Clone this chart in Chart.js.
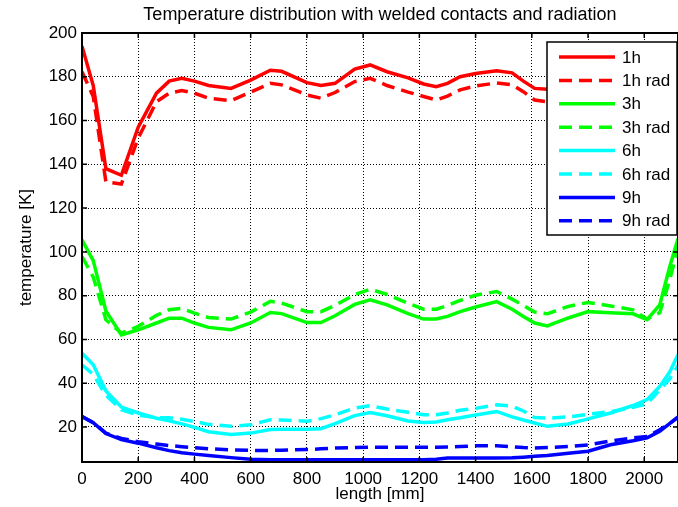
<!DOCTYPE html>
<html lang="en">
<head>
  <meta charset="UTF-8">
  <title>Temperature distribution</title>
  <script src="https://cdn.jsdelivr.net/npm/chart.js"></script>
  <style>
    body { margin: 0; background: #fff; }
  </style>
</head>
<body>
  <canvas id="myChart" width="678" height="507"></canvas>
  <script>
    // length positions [mm]
    const lengths = [0, 40, 85, 140, 200, 265, 310, 355, 400, 450, 530, 600, 670, 710, 800, 850, 900, 970, 1025, 1085,
      1160, 1215, 1260, 1300, 1345, 1400, 1475, 1530, 1570, 1610, 1655, 1730, 1800, 1880, 1960, 2010, 2055, 2090, 2120];

    const t1h = [194, 176, 138, 135, 157, 172.5, 178, 179.3, 178, 176, 174.7, 178.5, 183, 182.5, 177.3, 176, 177, 183.5, 185.4, 182.3,
      179.5, 176.7, 175.5, 177, 180, 181.5, 182.8, 181.8, 178, 174.7, 174.3, 174, 174, 174, 176, 176, 180, 186, 194];
    const t1hRad = [182.3, 171, 132, 131, 152, 168.6, 172.5, 173.7, 172.5, 170.2, 169.1, 173, 177, 176.3, 171.7, 170.2, 172.8, 177.8, 179.3, 176,
      173, 171, 169.4, 171.2, 174, 175.8, 177.2, 176.4, 173.2, 169.4, 168.6, 168.5, 168.5, 168.5, 170, 170, 175, 180, 185];
    const t3h = [105.5, 96, 73, 62.1, 64.4, 67.5, 69.7, 69.7, 67.5, 65.5, 64.4, 67.5, 72.3, 71.8, 67.7, 67.7, 70.8, 76, 78.1, 75.8,
      71.8, 69.3, 69.3, 70.5, 72.7, 74.8, 77.3, 73.8, 70.5, 67.5, 66.2, 69.8, 72.7, 72.2, 71.7, 69, 75.8, 93, 106];
    const t3hRad = [97.9, 88.5, 69, 62.9, 66, 71, 73.6, 74.2, 72, 70, 69.3, 72.5, 77.4, 76.6, 72.7, 72.7, 75.5, 80.5, 82.9, 80.6,
      76.5, 73.8, 73.8, 75.5, 77.8, 80.2, 81.9, 78.4, 75.5, 72.5, 71.7, 75.1, 76.9, 75.3, 73.5, 69.3, 72.2, 87, 102];
    const t6h = [53.7, 48.4, 36.5, 29.1, 26.4, 24, 22.8, 21.4, 19.8, 17.8, 16.6, 17.2, 18.8, 19, 19, 19.2, 21.5, 25.2, 26.6, 25.1,
      22.7, 22, 22.3, 23.3, 24.2, 25.5, 27.1, 24.6, 23.2, 21.8, 20.3, 21.4, 23.7, 26.4, 29.8, 32.5, 38.5, 45, 53];
    const t6hRad = [48.4, 44, 34.5, 27.9, 25.4, 24.3, 24.2, 23.5, 22.5, 21.2, 20.3, 21, 23.3, 23.2, 22.6, 23.8, 25.6, 28.6, 29.7, 28.2,
      26.7, 25.6, 25.6, 26.4, 27.6, 28.5, 30.1, 29.5, 27.3, 24.3, 24, 24.6, 25.8, 27, 29, 30.6, 36.9, 42, 48];
    const t9h = [24.8, 22, 17, 14.2, 12.6, 10.5, 9.2, 8.2, 7.6, 7, 6, 5.3, 5, 5, 5, 5, 5, 5, 5, 5,
      5, 5, 5.3, 5.8, 5.8, 5.8, 5.8, 5.9, 6.2, 6.6, 7, 8, 8.9, 11.9, 13.7, 15, 18, 21.5, 24.5];
    const t9hRad = [24.8, 22, 17.2, 14.8, 13.3, 12.2, 11.5, 11, 10.5, 10, 9.6, 9.3, 9.3, 9.4, 9.7, 10, 10.4, 10.6, 10.7, 10.7,
      10.7, 10.7, 10.7, 10.9, 11.1, 11.4, 11.4, 11, 10.6, 10.4, 10.6, 11.1, 11.8, 13.6, 15, 15.6, 18.7, 21.5, 24.5];

    const xTicks = [0, 200, 400, 600, 800, 1000, 1200, 1400, 1600, 1800, 2000];
    const yTicks = [20, 40, 60, 80, 100, 120, 140, 160, 180, 200];

    const titleText = 'Temperature distribution with welded contacts and radiation';
    const xTitle = 'length [mm]';
    const yTitle = 'temperature [K]';
    const FONT = '"Liberation Sans", Arial, sans-serif';
    const DASH = [13, 7];

    function series(label, values, color, dashed) {
      return {
        label: label,
        data: lengths.map((x, i) => ({ x: x, y: values[i] })),
        borderColor: color,
        borderWidth: 3.5,
        borderDash: dashed ? DASH : [],
        pointRadius: 0,
        tension: 0,
        fill: false
      };
    }

    // frame, inner tick marks, title, axis titles, legend box
    const matlabLook = {
      id: 'matlabLook',
      afterDatasetsDraw(chart) {
        const ctx = chart.ctx, a = chart.chartArea;
        const xs = chart.scales.x, ys = chart.scales.y;
        ctx.save();
        ctx.strokeStyle = '#000';
        ctx.lineWidth = 1.5;
        ctx.setLineDash([]);
        ctx.beginPath();
        xTicks.forEach(v => {
          const px = xs.getPixelForValue(v);
          ctx.moveTo(px, a.bottom); ctx.lineTo(px, a.bottom - 5);
          ctx.moveTo(px, a.top); ctx.lineTo(px, a.top + 5);
        });
        yTicks.forEach(v => {
          const py = ys.getPixelForValue(v);
          ctx.moveTo(a.left, py); ctx.lineTo(a.left + 5, py);
          ctx.moveTo(a.right, py); ctx.lineTo(a.right - 5, py);
        });
        ctx.stroke();
        ctx.lineWidth = 2;
        ctx.strokeRect(a.left, a.top, a.right - a.left, a.bottom - a.top);
        ctx.restore();
      },
      afterDraw(chart) {
        const ctx = chart.ctx, a = chart.chartArea;
        ctx.save();
        ctx.fillStyle = '#000';
        ctx.font = '18px ' + FONT;
        ctx.textAlign = 'center';
        ctx.textBaseline = 'middle';
        ctx.fillText(titleText, (a.left + a.right) / 2, 15);
        ctx.font = '17px ' + FONT;
        ctx.fillText(xTitle, (a.left + a.right) / 2, 494);
        ctx.save();
        ctx.translate(26, (a.top + a.bottom) / 2);
        ctx.rotate(-Math.PI / 2);
        ctx.fillText(yTitle, 0, 0);
        ctx.restore();

        // legend
        const bx = 547, by = 42, bw = 130, bh = 193;
        ctx.fillStyle = '#fff';
        ctx.fillRect(bx, by, bw, bh);
        ctx.strokeStyle = '#000';
        ctx.lineWidth = 1.5;
        ctx.strokeRect(bx, by, bw, bh);
        ctx.textAlign = 'left';
        chart.data.datasets.forEach((ds, i) => {
          const y = 57 + i * 23.4;
          ctx.strokeStyle = ds.borderColor;
          ctx.lineWidth = 3.5;
          ctx.setLineDash(ds.borderDash);
          ctx.beginPath();
          ctx.moveTo(559, y); ctx.lineTo(615, y);
          ctx.stroke();
          ctx.setLineDash([]);
          ctx.fillStyle = '#000';
          ctx.fillText(ds.label, 622, y + 1);
        });
        ctx.restore();
      }
    };

    const ctx = document.getElementById('myChart').getContext('2d');
    new Chart(ctx, {
      type: 'line',
      data: {
        datasets: [
          series('1h', t1h, '#ff0000', false),
          series('1h rad', t1hRad, '#ff0000', true),
          series('3h', t3h, '#00ff00', false),
          series('3h rad', t3hRad, '#00ff00', true),
          series('6h', t6h, '#00ffff', false),
          series('6h rad', t6hRad, '#00ffff', true),
          series('9h', t9h, '#0000ff', false),
          series('9h rad', t9hRad, '#0000ff', true)
        ]
      },
      options: {
        responsive: false,
        animation: false,
        layout: { padding: { top: 33, left: 0, right: 0, bottom: 0 } },
        plugins: { legend: { display: false }, title: { display: false }, tooltip: { enabled: false } },
        scales: {
          x: {
            type: 'linear',
            min: 0,
            max: 2120,
            afterBuildTicks: s => { s.ticks = xTicks.map(v => ({ value: v })); },
            afterFit: s => { s.height = 45; },
            grid: { color: '#000', lineWidth: 1, drawTicks: false },
            border: { display: false, dash: [1, 2] },
            ticks: { color: '#000', font: { family: FONT, size: 17 }, padding: 7, maxRotation: 0, autoSkip: false,
              callback: v => String(v) }
          },
          y: {
            type: 'linear',
            min: 4,
            max: 200,
            afterBuildTicks: s => { s.ticks = yTicks.map(v => ({ value: v })); },
            afterFit: s => { s.width = 82; },
            grid: { color: '#000', lineWidth: 1, drawTicks: false },
            border: { display: false, dash: [1, 2] },
            ticks: { color: '#000', font: { family: FONT, size: 17 }, padding: 5, callback: v => String(v) }
          }
        }
      },
      plugins: [matlabLook]
    });
  </script>
</body>
</html>
